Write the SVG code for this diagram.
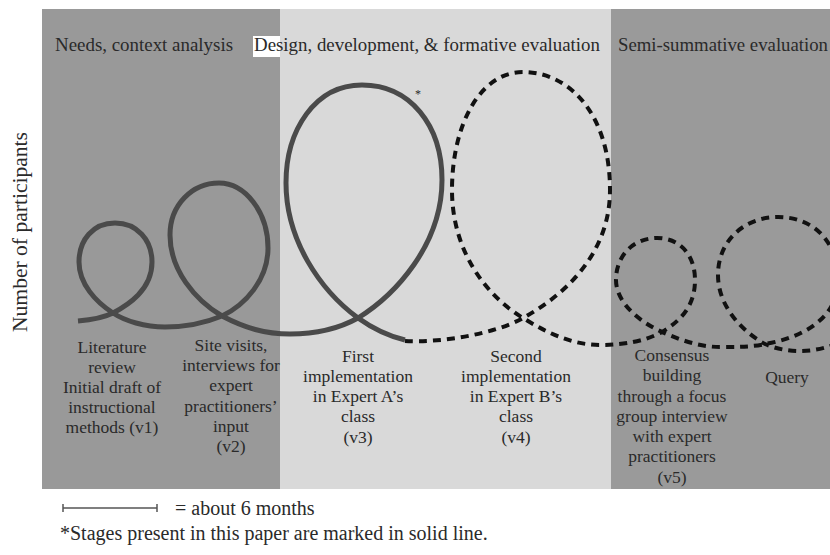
<svg xmlns="http://www.w3.org/2000/svg" width="830" height="555" viewBox="0 0 830 555">
<style>
text{font-family:"Liberation Serif","Times New Roman",serif;fill:#2a2a2a}
.hdr{font-size:18.8px}
.lbl{font-size:17.5px;text-anchor:middle}
.note{font-size:20px}
.solid{fill:none;stroke:#4a4a4a;stroke-width:5}
.dash{fill:none;stroke:#111;stroke-width:4;stroke-dasharray:8 6}
</style>
<rect width="830" height="555" fill="#fff"/>
<g id="panels">
<rect x="42" y="9" width="238" height="480" fill="#999"/>
<rect x="280" y="9" width="331" height="480" fill="#d9d9d9"/>
<rect x="611" y="9" width="219" height="480" fill="#9a9a9a"/>
<rect x="253" y="36" width="27" height="21" fill="#fff"/>
</g>
<g id="headers">
<text class="hdr" x="55" y="51" textLength="178" lengthAdjust="spacingAndGlyphs">Needs, context analysis</text>
<text class="hdr" x="254" y="51" textLength="346" lengthAdjust="spacingAndGlyphs">Design, development, &amp; formative evaluation</text>
<text class="hdr" x="618" y="51" textLength="210" lengthAdjust="spacingAndGlyphs">Semi-summative evaluation</text>
</g>
<g id="y-axis">
<text class="note" transform="translate(27,232) rotate(-90)" text-anchor="middle" textLength="200" lengthAdjust="spacingAndGlyphs">Number of participants</text>
</g>
<g id="connectors">
<path class="solid" d="M78,321 C90,320 103,318 113,313 C128,305 152,290 152,262 C152,240 137,223 115,223 C93,223 79,240 79,262 C79,284 96,302 113,313 C125,321 145,327 165,327 C185,327 205,323 222,316 C245,305 268,280 268,248 C268,212 245,183 219,183 C192,183 170,205 170,235 C170,270 195,300 222,316 C245,328 265,334 290,334 C315,334 340,328 358,318 C395,295 442,245 442,180 C442,125 410,85 362,85 C315,85 286,130 286,183 C286,240 320,290 358,318 C372,328 388,336 405,340"/>
<path class="dash" d="M405,341 C440,343 495,334 523,318 C570,292 610,250 610,190 C610,115 570,72 523,72 C480,72 452,125 452,190 C452,250 485,295 523,318 C550,335 575,345 600,345 C625,345 645,341 662,332 C682,320 695,305 695,280 C695,255 680,238 657,238 C634,238 616,255 616,280 C616,303 640,322 662,332 C680,340 700,347 720,347 C737,347 752,347 765,344 C800,338 838,320 838,280 C838,240 812,217 778,217 C745,217 718,240 718,275 C718,305 740,330 765,344 C785,353 815,355 845,340"/>
</g>
<g id="asterisk"><text x="415" y="98" font-size="12">*</text></g>
<g id="stage-v1">
<text class="lbl" x="112" y="353">Literature</text>
<text class="lbl" x="112" y="373">review</text>
<text class="lbl" x="112" y="393">Initial draft of</text>
<text class="lbl" x="112" y="413">instructional</text>
<text class="lbl" x="112" y="433">methods (v1)</text>
</g>
<g id="stage-v2">
<text class="lbl" x="231" y="351">Site visits,</text>
<text class="lbl" x="231" y="371">interviews for</text>
<text class="lbl" x="231" y="391">expert</text>
<text class="lbl" x="231" y="412">practitioners’</text>
<text class="lbl" x="231" y="432">input</text>
<text class="lbl" x="231" y="452">(v2)</text>
</g>
<g id="stage-v3">
<text class="lbl" x="358" y="362">First</text>
<text class="lbl" x="358" y="382">implementation</text>
<text class="lbl" x="358" y="402">in Expert A’s</text>
<text class="lbl" x="358" y="422">class</text>
<text class="lbl" x="358" y="443">(v3)</text>
</g>
<g id="stage-v4">
<text class="lbl" x="516" y="362">Second</text>
<text class="lbl" x="516" y="382">implementation</text>
<text class="lbl" x="516" y="402">in Expert B’s</text>
<text class="lbl" x="516" y="422">class</text>
<text class="lbl" x="516" y="443">(v4)</text>
</g>
<g id="stage-v5">
<text class="lbl" x="672" y="361">Consensus</text>
<text class="lbl" x="672" y="381">building</text>
<text class="lbl" x="672" y="402">through a focus</text>
<text class="lbl" x="672" y="422">group interview</text>
<text class="lbl" x="672" y="442">with expert</text>
<text class="lbl" x="672" y="462">practitioners</text>
<text class="lbl" x="672" y="483">(v5)</text>
</g>
<g id="stage-query">
<text class="lbl" x="787" y="383">Query</text>
</g>
<g id="legend">
<path d="M63,508 H157 M63,504 V512 M157,504 V512" stroke="#555" stroke-width="1.5" fill="none"/>
<text class="note" x="175" y="515">= about 6 months</text>
<text class="note" x="60" y="540">*Stages present in this paper are marked in solid line.</text>
</g>
</svg>
